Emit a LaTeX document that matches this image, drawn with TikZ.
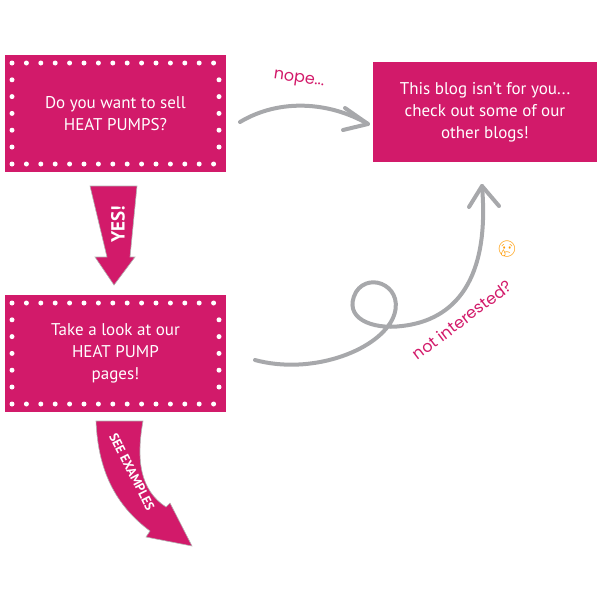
\documentclass[tikz,border=0pt]{standalone}
\usepackage{fontspec}
\setmainfont{PT Sans}
\newfontfamily\hand{Poppins}
\newfontfamily\emo{Noto Emoji}
\usetikzlibrary{positioning}
\definecolor{pink}{HTML}{D21A6A}
\definecolor{arrowgray}{HTML}{A7A8AB}
\begin{document}
\begin{tikzpicture}
[x=1pt,y=-1pt,
 box/.style={fill=pink,text=white,align=center,font=\fontsize{17}{22}\selectfont,inner sep=0pt},
 dot/.style={circle,fill=white,inner sep=0pt,minimum size=5pt},
 loop/.style={draw=arrowgray,line width=4pt,line cap=round,line join=round},
 scrib/.style={text=pink,font=\hand\fontsize{16}{18}\selectfont},
 banner/.style={fill=pink,draw=gray!60,line width=0.6pt}]
\useasboundingbox (0,0) rectangle (600,600);
\node[box,minimum width=221pt,minimum height=117pt] (ask) at (115.5,113.5) {Do you want to sell\\HEAT PUMPS?};
\node[box,minimum width=221pt,minimum height=117pt] (look) at (115.5,353.5) {Take a look at our\\HEAT PUMP\\pages!};
\node[box,minimum width=224pt,minimum height=100pt] (blog) at (485,112) {This blog isn't for you...\\check out some of our\\other blogs!};
% dotted borders
\foreach \b/\y in {ask/55,look/295}{
  \foreach \i in {0,...,14}{
    \node[dot] at (12+\i*14.4,\y+8) {};
    \node[dot] at (12+\i*14.4,\y+109) {};
  }
  \foreach \j in {1,...,5}{
    \node[dot] at (12,\y+8+\j*16.8) {};
    \node[dot] at (219,\y+8+\j*16.8) {};
  }
}
% yes arrow
\fill[banner] (90,186) -- (137,186) -- (130,257) -- (135,257) -- (114,285) -- (95,257) -- (107,257) -- cycle;
\node[text=white,font=\bfseries\fontsize{19}{20}\selectfont,rotate=90] (yes) at (118,224) {YES!};
% see examples arrow
\fill[banner] (96,421) -- (143,421) .. controls (136,460) and (140,490) .. (166,507)
  -- (170,503) -- (192,546) -- (146,537) -- (150,531) .. controls (115,505) and (98,470) .. cycle;
\node[text=white,font=\bfseries\fontsize{13}{14}\selectfont,rotate=-63] (see) at (132,472) {SEE EXAMPLES};
% nope arrow
\coordinate (n0) at (240,122);
\coordinate (n1) at (368,124);
\draw[loop] (n0) .. controls (280,98) and (330,102) .. (n1);
\draw[loop] (345,108) -- (n1) -- (343,130);
\node[scrib,rotate=-8] (nope) at (299,80) {nope...};
% loop arrow
\coordinate (m0) at (255,360);
\coordinate (m1) at (482,186);
\draw[loop] (m0) .. controls (310,375) and (375,352) .. (392,320)
  .. controls (408,288) and (370,270) .. (356,292)
  .. controls (342,318) and (372,330) .. (402,326)
  .. controls (455,320) and (490,280) .. (m1);
\draw[loop] (469,207) -- (m1) -- (499,206);
\node[scrib,rotate=37] (notint) at (462,320) {not interested?};
\node[font=\emo\fontsize{16}{16}\selectfont,text=orange!80!yellow] (sad) at (507,249) {😢};
\end{tikzpicture}
\end{document}
